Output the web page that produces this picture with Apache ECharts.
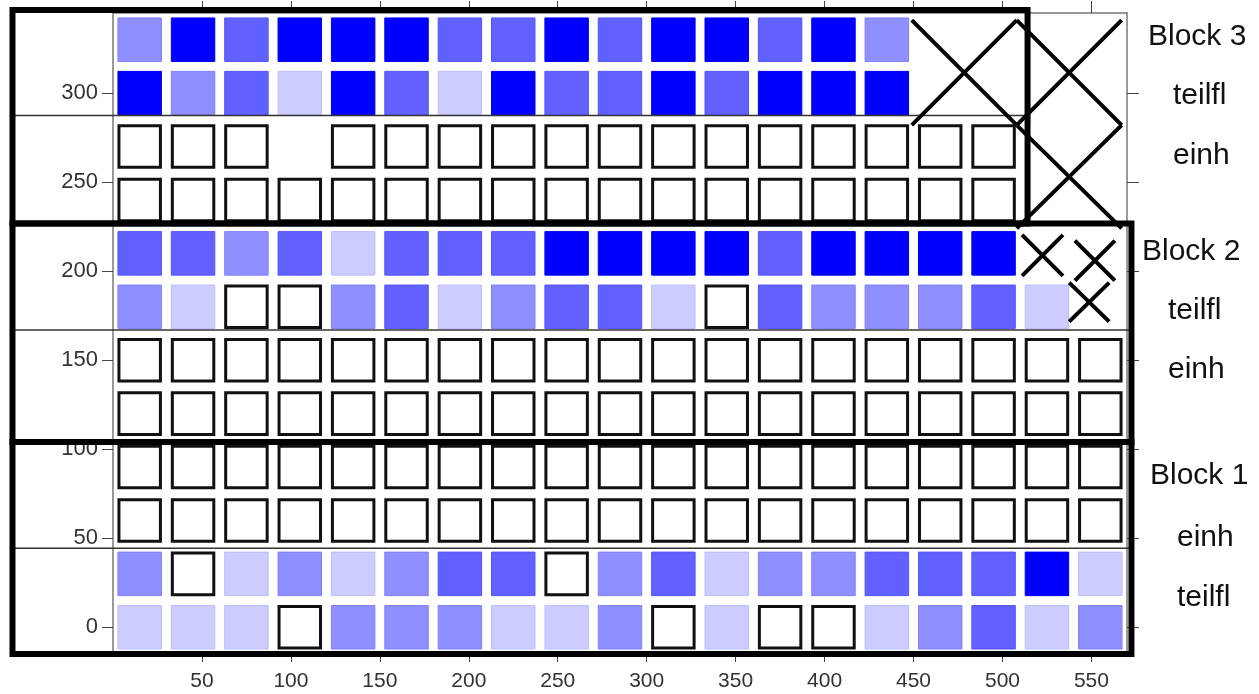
<!DOCTYPE html>
<html><head><meta charset="utf-8">
<script src="https://cdn.jsdelivr.net/npm/echarts@6/dist/echarts.min.js"></script>
<style>html,body{margin:0;padding:0;background:#fff}#c{width:1259px;height:694px}</style>
</head><body><div id="c"></div>
<script>
// plot centres (x, metres) and row positions (y)
const columnX = [15,45,75,105,135,165,195,225,255,285,315,345,375,405,435,465,495,525,555];
const xTickValues = [50,100,150,200,250,300,350,400,450,500,550];
const yTickValues = [0,50,100,150,200,250,300];

// level per cell: 0 = empty (outlined), 1..4 = intensity, null = no cell
const block1_teilfl_y0  = [1,1,1,0,2,2,2,1,1,2,0,1,0,0,1,2,3,1,2];
const block1_teilfl_y30 = [2,0,1,2,1,2,3,3,0,2,3,1,2,2,3,3,3,4,1];
const block1_einh_y60   = [0,0,0,0,0,0,0,0,0,0,0,0,0,0,0,0,0,0,0];
const block1_einh_y90   = [0,0,0,0,0,0,0,0,0,0,0,0,0,0,0,0,0,0,0];
const block2_einh_y120  = [0,0,0,0,0,0,0,0,0,0,0,0,0,0,0,0,0,0,0];
const block2_einh_y150  = [0,0,0,0,0,0,0,0,0,0,0,0,0,0,0,0,0,0,0];
const block2_teilfl_y180= [2,1,0,0,2,3,1,2,3,3,1,0,3,2,2,2,3,1,null];
const block2_teilfl_y210= [3,3,2,3,1,3,3,3,4,4,4,4,3,4,4,4,4,null,null];
const block3_einh_y240  = [0,0,0,0,0,0,0,0,0,0,0,0,0,0,0,0,0,null,null];
const block3_einh_y270  = [0,0,0,null,0,0,0,0,0,0,0,0,0,0,0,0,0,null,null];
const block3_teilfl_y300= [4,2,3,1,4,3,1,4,3,3,4,3,4,4,4,null,null,null,null];
const block3_teilfl_y330= [2,4,3,4,4,4,3,3,4,3,4,4,3,4,2,null,null,null,null];

const rows = [
  [0, block1_teilfl_y0], [30, block1_teilfl_y30], [60, block1_einh_y60], [90, block1_einh_y90],
  [120, block2_einh_y120], [150, block2_einh_y150], [180, block2_teilfl_y180], [210, block2_teilfl_y210],
  [240, block3_einh_y240], [270, block3_einh_y270], [300, block3_teilfl_y300], [330, block3_teilfl_y330]
];
const levelColors = ['#ffffff','#ccccff','#8f8fff','#6161ff','#0000ff'];
const levelStroke = ['#111111','#bdbdff','#8080ff','#5555ff','#0000f0'];

// missing-plot crosses: [xmin, xmax, ymin, ymax]
const crosses = [[449,508,282,341],[508,567,282,341],[508,567,224,282],
                 [511,534,197.4,220.4],[540.7,563.2,194.7,217.2],[537.5,560,171.7,193.6]];
// block outlines: [xmin, xmax, ymin, ymax]
const blocks = [[-56.5,572.5,-15,104.1],[-56.5,572.5,104.1,226.8],[-56.5,514.1,226.8,346.7]];
// thin separators: [xmin, xmax, y]
const separators = [[-56.5,572.5,44.4],[-56.5,572.5,167],[-56.5,514.1,287.5]];

const rightLabels = ['Block 3','teilfl','einh','Block 2','teilfl','einh','Block 1','einh','teilfl'];
const rightLabelPos = [[1148,37],[1173,96],[1173,156],[1142,252],[1168,311],[1168,370],[1150,476],[1177,538],[1177,598]];

const cellData = [];
rows.forEach(([y, levels]) => levels.forEach((lv, i) => { if (lv !== null) cellData.push([columnX[i], y, lv]); }));

const FONT = 'Liberation Sans, Arial, sans-serif';
const chart = echarts.init(document.getElementById('c'), null, {renderer:'canvas'});
const axisLineStyle = {color:'#777', width:1.5};
chart.setOption({
  animation:false,
  grid:{left:113, top:13, width:1014, height:641},
  xAxis:[
    {type:'value', min:0, max:570, position:'bottom', splitLine:{show:false},
     axisLine:{show:true, onZero:false, lineStyle:axisLineStyle},
     axisTick:{show:true, length:8, customValues:xTickValues, lineStyle:{color:'#444'}},
     axisLabel:{customValues:xTickValues, fontSize:21, color:'#333', fontFamily:FONT, margin:17}},
    {type:'value', min:0, max:570, position:'top', splitLine:{show:false},
     axisLine:{show:true, onZero:false, lineStyle:axisLineStyle},
     axisTick:{show:true, length:12, customValues:xTickValues, lineStyle:{color:'#444'}},
     axisLabel:{show:false}}
  ],
  yAxis:[
    {type:'value', min:-15, max:345, position:'left', splitLine:{show:false},
     axisLine:{show:true, onZero:false, lineStyle:axisLineStyle},
     axisTick:{show:true, length:11, customValues:yTickValues, lineStyle:{color:'#444'}},
     axisLabel:{customValues:yTickValues, fontSize:22, color:'#333', fontFamily:FONT, margin:15}},
    {type:'value', min:-15, max:345, position:'right', splitLine:{show:false},
     axisLine:{show:true, onZero:false, lineStyle:axisLineStyle},
     axisTick:{show:true, length:12, customValues:yTickValues, lineStyle:{color:'#444'}},
     axisLabel:{show:false}}
  ],
  graphic: rightLabels.map((t, i) => ({type:'text', left:rightLabelPos[i][0], top:rightLabelPos[i][1]-15, z:10,
     style:{text:t, fontSize:30, fontFamily:FONT, fill:'#111', textVerticalAlign:'top'}})),
  series:[
    {type:'custom', name:'cells', data:cellData, clip:false,
     renderItem(params, api){
       const c = api.coord([api.value(0), api.value(1)]);
       const s = api.size([25, 25]);
       const lv = api.value(2);
       if (lv === 0) {
         return {type:'rect', shape:{x:c[0]-s[0]/2+1.5, y:c[1]-s[1]/2+1.5, width:s[0]-3, height:s[1]-3},
                 style:{fill:'#ffffff', stroke:'#111', lineWidth:3}};
       }
       return {type:'rect', shape:{x:c[0]-s[0]/2+0.5, y:c[1]-s[1]/2+0.5, width:s[0]-1, height:s[1]-1},
               style:{fill:levelColors[lv], stroke:levelStroke[lv], lineWidth:1}};
     }},
    {type:'custom', name:'separators', data:separators, clip:false, z:3,
     renderItem(params, api){
       const a = api.coord([api.value(0), api.value(2)]);
       const b = api.coord([api.value(1), api.value(2)]);
       return {type:'line', shape:{x1:a[0], y1:a[1], x2:b[0], y2:b[1]}, style:{stroke:'#333', lineWidth:1.5}};
     }},
    {type:'custom', name:'crosses', data:crosses, clip:false, z:4,
     renderItem(params, api){
       const a = api.coord([api.value(0), api.value(3)]);
       const b = api.coord([api.value(1), api.value(2)]);
       const st = {stroke:'#000', lineWidth:4};
       return {type:'group', children:[
         {type:'line', shape:{x1:a[0], y1:a[1], x2:b[0], y2:b[1]}, style:st},
         {type:'line', shape:{x1:a[0], y1:b[1], x2:b[0], y2:a[1]}, style:st}]};
     }},
    {type:'custom', name:'blocks', data:blocks, clip:false, z:5,
     renderItem(params, api){
       const a = api.coord([api.value(0), api.value(3)]);
       const b = api.coord([api.value(1), api.value(2)]);
       return {type:'rect', shape:{x:a[0], y:a[1], width:b[0]-a[0], height:b[1]-a[1]},
               style:{fill:'none', stroke:'#000', lineWidth:6, lineJoin:'miter'}};
     }}
  ]
});
</script></body></html>
